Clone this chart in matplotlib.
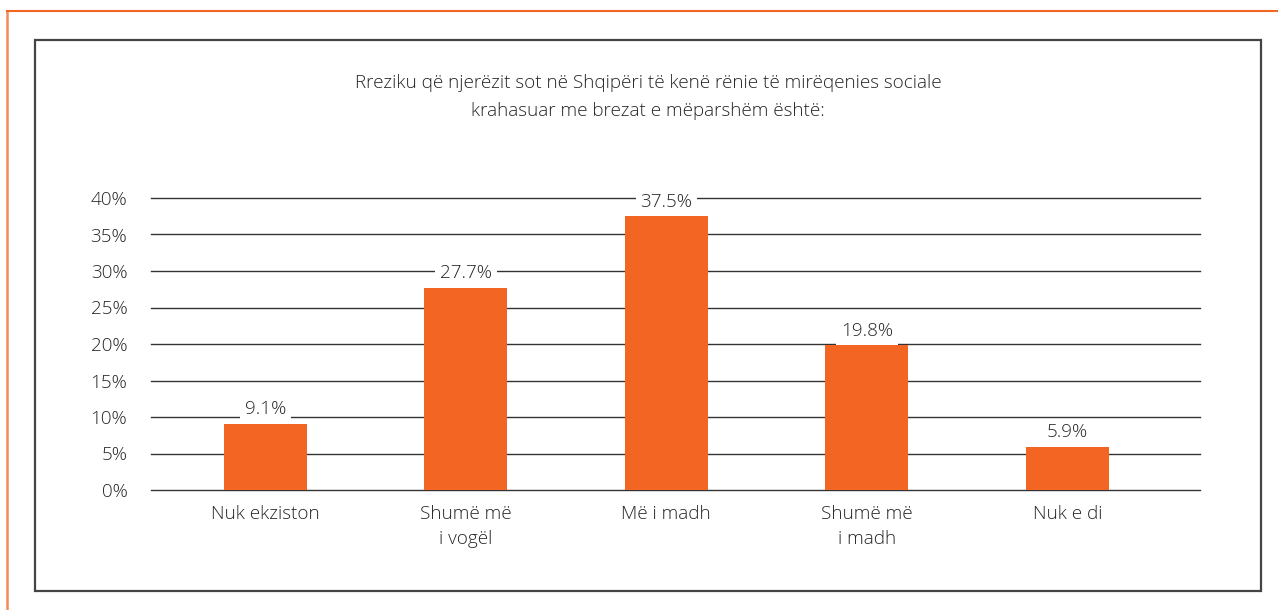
import matplotlib
matplotlib.use("Agg")
import matplotlib.pyplot as plt
from matplotlib.patches import Rectangle
from matplotlib.lines import Line2D

categories = ["Nuk ekziston", "Shumë më\ni vogël", "Më i madh", "Shumë më\ni madh", "Nuk e di"]
values = [9.1, 27.7, 37.5, 19.8, 5.9]
yticks = [0, 5, 10, 15, 20, 25, 30, 35, 40]
title = "Rreziku që njerëzit sot në Shqipëri të kenë rënie të mirëqenies sociale\nkrahasuar me brezat e mëparshëm është:"

plt.rcParams['font.family'] = ['Open Sans', 'DejaVu Sans']
TXT = "#262626"
BAR = "#F26522"
FS = 13.6

W, H = 1278, 610
fig = plt.figure(figsize=(W / 100, H / 100), dpi=100)
ax = fig.add_axes([151 / W, 1 - 490 / H, (1200 - 151) / W, (490 - 198) / H])

x = list(range(len(categories)))
ax.bar(x, values, width=0.414, color=BAR, zorder=3)
ax.set_xlim(-0.57, 4.662)
ax.set_ylim(0, 40)
ax.set_yticks(yticks)
ax.set_yticklabels([f"{v}%" for v in yticks])
ax.set_xticks(x)
ax.set_xticklabels(categories, linespacing=1.5)
ax.tick_params(axis='both', length=0, labelsize=FS, labelcolor=TXT)
for lbl in ax.get_xticklabels() + ax.get_yticklabels():
    lbl.set_fontweight('light')
ax.tick_params(axis='y', pad=17)
ax.tick_params(axis='x', pad=11)
ax.grid(axis='y', color='#333333', linewidth=1, zorder=0)
for gl in ax.get_ygridlines():
    gl.set_clip_on(False)
ax.set_axisbelow(True)
for s in ax.spines.values():
    s.set_visible(False)

for xi, v in zip(x, values):
    ax.annotate(f"{v}%", (xi, v), xytext=(0, 4), textcoords='offset points',
                ha='center', va='bottom', fontsize=FS, color=TXT, zorder=4,
                fontweight='light',
                bbox=dict(boxstyle='square,pad=0.25', fc='white', ec='none'),
                annotation_clip=False)

fig.text(648 / W, 1 - 97 / H, title, ha='center', va='center', fontsize=FS,
         color=TXT, linespacing=1.7, fontweight='light')

# outer orange frame (top and left lines)
fig.add_artist(Line2D([7 / W, 7 / W], [0, 1 - 11 / H], color='#F58A5A', lw=1.8,
                      transform=fig.transFigure))
fig.add_artist(Line2D([7 / W, 1], [1 - 11 / H, 1 - 11 / H], color='#F26522', lw=1.5,
                      transform=fig.transFigure))
# inner dark box
fig.add_artist(Rectangle((35 / W, 1 - 591 / H), (1261 - 35) / W, (591 - 40) / H,
                         fill=False, ec='#444444', lw=1.6, transform=fig.transFigure))

fig.savefig("out.png", dpi=100, facecolor='white')
